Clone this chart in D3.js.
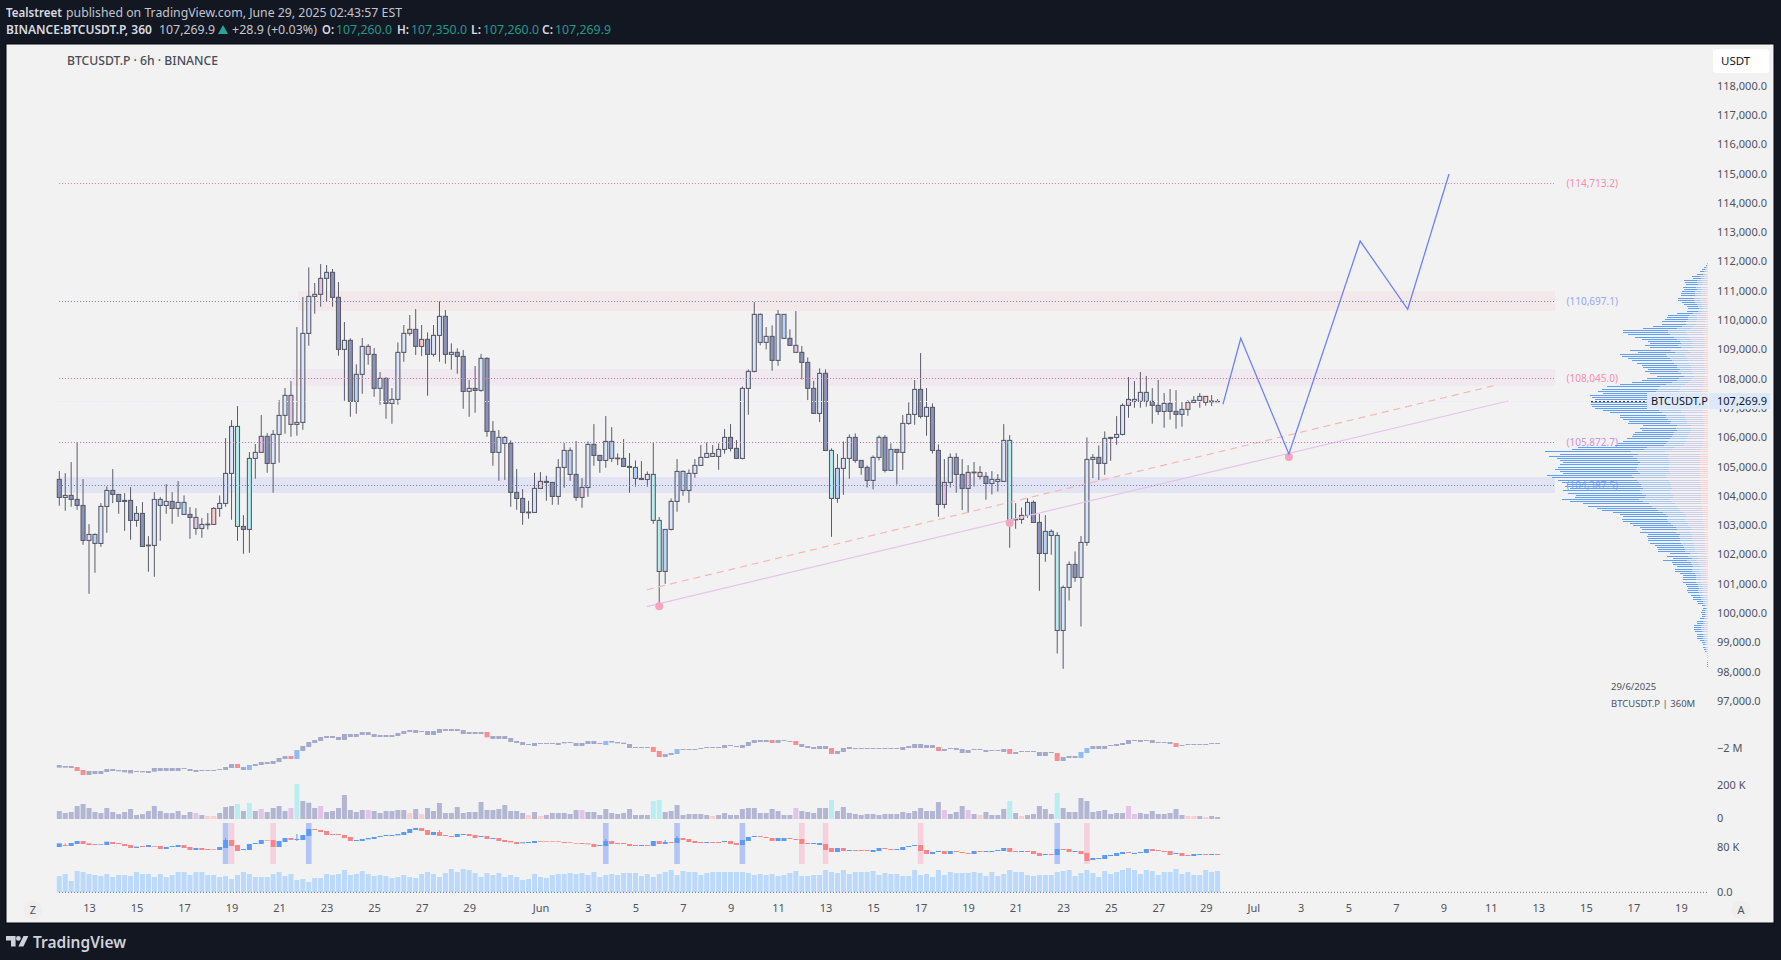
<!DOCTYPE html>
<html>
<head>
<meta charset="utf-8">
<script src="https://cdn.jsdelivr.net/npm/d3@7"></script>
<style>
  body { margin: 0; background: #131722; overflow: hidden; }
  text { font-family: "Noto Sans", sans-serif; }
  .tick line, .domain { display: none; }
</style>
</head>
<body>
<svg id="chart" width="1781" height="960"></svg>
<script>
// price candles, 6h
const opens = [104545,103930,103999,103862,103657,102462,102360,102360,103623,104169,
104033,103828,103828,103145,103384,102280,102292,103657,103657,103794,
103555,103350,103350,103247,102872,102997,103008,103555,103725,104750,
106354,102940,102838,105262,105467,106013,105091,106081,106730,107413,
106423,106491,109529,110792,110861,111407,111612,110758,108983,109290,
107208,108130,109085,108812,107652,107993,107139,107276,108881,109529,
109666,109085,109324,108812,109461,110110,108812,108881,108744,107549,
107652,107583,108676,106184,105467,105774,105774,104101,103896,103407,
103418,104238,104477,104442,103964,104954,104715,104715,103930,104272,
105740,105364,105193,105262,105250,105262,104989,104579,104579,104545,
104715,103145,101404,102838,103794,104169,104169,104750,105023,105296,
105432,105330,105569,105979,105603,105262,107652,108232,109222,109222,
109427,108607,109359,109359,109120,108881,108539,107652,106798,108164,
105535,103896,104920,105262,105979,105193,104954,104511,105296,105979,
104852,105569,105467,106457,106764,107617,106696,107003,105535,103691,
104442,105296,104715,104238,104772,104784,104647,104408,104477,104477,
105876,103168,103179,103316,103760,103077,102018,102633,102633,99390,
100858,101643,101199,102394,105228,105296,105091,105979,105979,106081,
107071,107208,107208,107208,107208,107071,106866,107139,106866,106764,
106935,107174,107242,107378,107196,107197];
const highs = [104830,104761,105137,105819,104556,103020,102701,103737,104306,104898,
104033,104078,104283,103634,103771,102610,104112,103942,104385,104112,
104488,103999,103600,103566,103225,103395,103600,103999,105956,106570,
107048,103327,105478,105751,106741,106127,106229,107253,107663,107902,
109745,110770,111782,111248,111896,111862,111726,111282,109916,109359,
108471,109370,109165,109029,108209,108027,107663,109222,109814,110155,
110360,109814,109563,109814,110622,110326,109188,109017,108960,107936,
108414,108824,108710,106536,106229,106024,105876,104898,104215,103816,
104772,104795,104670,104442,105239,105785,105637,105854,104590,105842,
106434,105364,106707,106331,105432,105922,105444,105193,105171,104818,
105819,103259,102838,103896,105239,104852,104886,105239,105717,105808,
105717,105774,106263,106434,105888,107720,108300,110599,110212,109745,
109802,110326,110178,109666,110292,109097,108710,107913,108334,108300,
105603,105410,105842,106081,106115,105193,105023,105364,106047,106058,
105774,105569,106741,107174,107936,108858,107663,107139,105740,105239,
105432,105444,105239,105034,105137,105000,104795,104829,104727,106434,
106058,103737,103589,103896,103828,103361,103327,102838,102747,100926,
101745,102087,102610,105979,105410,105706,106184,105979,106707,107139,
108038,107902,108209,108073,107663,107936,107492,107629,107595,107185,
107253,107390,107492,107378,107424,107287];
const lows = [103646,103475,103612,103509,102314,100641,101358,102246,102724,103737,
103373,102792,102485,102929,102257,101393,101222,102451,103373,103031,
103270,103350,102519,102656,102553,102838,103008,103270,103612,103168,
102451,102007,102041,104568,105467,104772,104090,105114,106104,106001,
106036,106240,109108,110201,110440,110633,110440,108767,107230,106684,
106787,107469,108460,107367,107094,106616,106445,107094,108562,109450,
108790,108755,107401,108733,108562,108494,108289,108152,106957,106684,
106821,107538,106001,105011,104499,104522,103612,103509,102997,103202,
103418,104238,103816,103680,103680,104260,104499,103816,103577,103953,
105011,104772,104943,105137,105034,104989,104090,104294,104522,104294,
103031,100209,100983,102804,103441,103987,103748,104602,105023,105296,
105330,104875,105421,105501,105239,105228,106753,108198,109120,108983,
108255,108425,109359,109120,108881,107959,107253,106798,106502,105512,
102587,103748,104021,104568,105114,104704,104272,104203,105193,104784,
104841,104374,104875,106411,106411,106627,106036,105432,103270,103555,
104272,104090,103498,103407,104306,104545,103851,104033,104135,104477,
102212,102861,103031,103236,103077,100744,101734,101973,98604,98081,
100414,101051,99526,102280,104590,104522,104704,105182,105728,106047,
106650,106992,106992,107026,106445,106753,106309,106582,106275,106343,
106718,107174,106992,107060,107048,107185];
const closes = [103930,103999,103862,103657,102462,102667,102667,103623,104169,104033,
103794,103794,103145,103384,102257,102303,103862,103862,103794,103555,
103760,103760,103247,102872,103008,103020,103555,103725,104750,106354,
102940,102838,105262,105467,106013,105091,106081,106730,107413,106423,
106491,109529,110792,110861,111407,111612,110758,108983,109290,107208,
108130,109085,108812,107652,107993,107139,107276,108881,109529,109666,
109085,109324,108812,109461,110110,108812,108881,108744,107549,107652,
107583,108676,106184,105467,105979,105979,104101,103896,103418,103429,
104238,104477,104442,103964,104954,105535,105535,103930,104272,105740,
105364,105193,105842,105842,105273,104989,104954,104954,104545,104715,
103145,101404,102838,103794,104818,104818,104750,105023,105296,105432,
105330,105569,105979,105603,105262,107652,108232,110178,110178,109427,
108607,110178,110178,109120,108881,108539,107652,106798,108164,105535,
103896,104920,105262,105979,105193,104954,104511,105296,105979,104852,
105569,105467,106457,106764,107617,106696,107003,105535,103691,104442,
105296,104715,104238,104784,104795,104647,104408,104545,104545,105876,
103145,103191,103316,103760,103077,102018,102770,102770,99390,100858,
101643,101199,102394,105228,105296,105091,105945,105945,106081,107071,
107276,107276,107515,107515,107071,106866,107139,106866,106764,106935,
107174,107242,107378,107174,107220,107205];
// D dark, L light, B blue, C cyan, P pink, M mauve
const candleKinds = ('D L D D D L B L L D D D D B D L L B L D L B D M L L P L L L ' +
  'C D C L M D L L L M L L L L M B D D L D B L M D L D L L L P D P D L L D L D D L ' +
  'D L D D L B D D D L L P D D L L B D M L D D L B L D D B D L C C B L L B L L L L ' +
  'P L L D D L L L B L D L B D M D D D L D C B L L D D D L L D B D L L L D L D D M ' +
  'L D D M L P D L L L C L P L D D B B C L L D L L L D L D L L M L L B D D L D D B ' +
  'P L L P L L').split(' ');
// candle rows were read against the axis label centres, which sit slightly high
const priceReadOffset = 65;

const priceTicks = d3.range(97000, 118001, 1000);
const dateTickIndex = d3.range(5, 70, 8).concat(d3.range(81, 274, 8));
const dateTickLabels = ['13','15','17','19','21','23','25','27','29','Jun','3','5','7','9','11','13','15','17','19','21','23','25','27','29','Jul','3','5','7','9','11','13','15','17','19'];

const levelPrices = [114713.2, 110697.1, 108045.0, 105872.7, 104387.5];
const levelLabels = ['(114,713.2)', '(110,697.1)', '(108,045.0)', '(105,872.7)', '(104,387.5)'];
const levelColors = ['#f47fa4', '#7a80ee', '#f5709c', '#c872de', '#6a80f8'];
const levelLabelColors = ['#f48fb1', '#9aa6f6', '#f48fb1', '#ce93d8', '#90a4f0'];

const zoneStart = [40.2, 39.2, 0];
const zoneTop = [111041, 108379, 104693];
const zoneBottom = [110358, 107809, 104147];
const zoneColors = ['#f3e9eb', '#f0e9f0', '#e2e4f3'];

const projectionIndex = [195.9, 198.9, 207, 219, 227, 233.96];
const projectionPrice = [107174, 109427, 105478, 112747, 110416, 115034];
const pivotIndex = [101, 160, 207];
const pivotPrice = [100280, 103123, 105375];
const dashedTrendIndex = [98.9, 242];
const dashedTrendPrice = [100846, 107833];
const solidTrendIndex = [98.9, 243.9];
const solidTrendPrice = [100266, 107287];

// visible range volume, top row first
const profileTopPrice = 111986;
const profileRowStep = 74;
const profileVolumes = [2,5,11,16,23,33,47,43,71,68,
65,75,71,78,80,80,88,90,78,71,
61,58,63,93,118,123,128,138,136,165,
193,253,255,238,218,198,178,173,188,173,
233,208,263,258,238,228,213,198,193,178,
188,173,153,183,198,228,263,303,318,328,
313,353,348,338,351,351,348,338,313,293,
263,263,255,235,238,193,203,198,218,223,
228,243,253,268,278,388,408,488,443,475,
453,443,433,443,448,458,443,433,483,468,
448,438,423,428,413,433,418,395,398,438,
413,373,358,333,318,283,263,255,258,255,
233,223,203,198,203,178,183,178,178,173,
158,153,148,148,113,123,103,133,108,103,
93,98,98,83,73,73,75,73,65,63,
58,63,58,51,45,43,33,28,18,13,
18,20,18,18,23,31,33,41,41,41,
38,33,33,33,23,18,15,15,11,8,
3,3,3,3,1,1,1];
const profileShares = [1, 0.47, 0.26, 0.05];
const profileColors = ['#5e9ff4', '#a6c8f3', '#cdd0e6', '#fcd0d0'];

// cumulative delta pane, thousands
const cvdHigh = [-3020,-3080,-3080,-3140,-3320,-3380,-3380,-3380,-3260,-3260,
-3320,-3320,-3320,-3380,-3380,-3380,-3200,-3200,-3200,-3200,
-3200,-3200,-3260,-3320,-3320,-3320,-3320,-3260,-3140,-2960,
-2960,-3140,-3020,-2960,-2840,-2840,-2780,-2600,-2480,-2480,
-2120,-1880,-1640,-1520,-1340,-1280,-1280,-1340,-1160,-1160,
-1160,-1040,-1040,-1160,-1220,-1220,-1220,-1100,-980,-920,
-920,-980,-980,-980,-860,-860,-860,-860,-920,-1040,
-1040,-1040,-1040,-1280,-1280,-1280,-1400,-1580,-1640,-1760,
-1700,-1700,-1700,-1700,-1700,-1640,-1640,-1700,-1700,-1580,
-1580,-1700,-1580,-1580,-1640,-1680,-1760,-1940,-1940,-1940,
-1940,-2180,-2360,-2300,-2060,-2060,-2060,-2060,-2000,-1940,
-1940,-1940,-1820,-1820,-1880,-1820,-1640,-1520,-1520,-1520,
-1520,-1520,-1520,-1580,-1580,-1760,-1880,-1940,-1880,-1880,
-2000,-2180,-2000,-1940,-2000,-2000,-2000,-2000,-2000,-2000,
-2000,-2000,-1940,-1880,-1760,-1760,-1820,-1820,-1940,-2060,
-2000,-2000,-2060,-2120,-2060,-2060,-2120,-2120,-2120,-2060,
-2060,-2240,-2180,-2180,-2180,-2240,-2240,-2240,-2300,-2540,
-2480,-2480,-2240,-2000,-1880,-1880,-1880,-1820,-1760,-1700,
-1520,-1520,-1520,-1520,-1520,-1640,-1640,-1640,-1700,-1820,
-1760,-1760,-1760,-1760,-1700,-1700];
const cvdLow = [-3180,-3180,-3200,-3380,-3620,-3620,-3560,-3560,-3440,-3380,
-3400,-3460,-3520,-3440,-3460,-3500,-3420,-3380,-3380,-3380,
-3380,-3260,-3380,-3440,-3380,-3380,-3380,-3320,-3320,-3200,
-3200,-3320,-3320,-3080,-3020,-2960,-2960,-2840,-2660,-2660,
-2660,-2180,-1940,-1700,-1580,-1400,-1400,-1520,-1520,-1340,
-1340,-1220,-1220,-1340,-1340,-1340,-1340,-1280,-1160,-1040,
-1100,-1040,-1220,-1220,-1100,-980,-980,-980,-1160,-1160,
-1160,-1160,-1360,-1460,-1460,-1460,-1640,-1700,-1820,-1820,
-1880,-1760,-1760,-1760,-1820,-1720,-1700,-1880,-1880,-1760,
-1760,-1760,-1820,-1680,-1720,-1760,-2000,-2000,-2000,-2000,
-2240,-2540,-2540,-2420,-2360,-2120,-2120,-2120,-2060,-2000,
-2000,-2000,-2000,-1880,-1940,-2000,-1880,-1700,-1640,-1640,
-1700,-1700,-1580,-1640,-1820,-1940,-2000,-2060,-2060,-2060,
-2360,-2360,-2240,-2060,-2060,-2060,-2060,-2060,-2060,-2060,
-2060,-2060,-2120,-2000,-2000,-2000,-2000,-2000,-2180,-2180,
-2060,-2120,-2300,-2300,-2120,-2120,-2240,-2180,-2180,-2240,
-2360,-2360,-2240,-2240,-2240,-2480,-2480,-2300,-2780,-2780,
-2600,-2600,-2600,-2300,-2060,-2060,-2060,-1880,-1880,-1820,
-1760,-1580,-1640,-1580,-1700,-1700,-1700,-1760,-1940,-1880,
-1820,-1820,-1820,-1820,-1760,-1760];
const cvdSalmon = [3,4,30,39,72,100,101,120,124,130,148,160,168,188];
const cvdBlue = [32,40,92,104,172,173];

// volume pane, thousands
const volumes = [48,36,42,78,90,66,42,36,66,42,
30,42,60,24,30,48,78,48,36,36,
48,24,42,36,24,18,18,36,72,78,
90,48,96,48,60,42,66,78,48,66,
210,108,98,66,78,42,48,66,144,54,
42,54,54,48,36,48,48,54,54,36,
60,30,66,48,96,36,36,72,36,42,
42,102,54,54,60,84,48,48,36,24,
42,18,24,36,36,36,30,54,54,42,
42,24,60,36,30,36,60,24,24,24,
108,114,42,48,84,24,30,30,30,24,
18,24,36,24,24,60,66,66,36,36,
60,48,24,24,66,48,42,36,66,66,
114,48,72,36,30,24,30,30,24,30,
30,30,42,36,48,66,48,48,102,54,
30,42,78,54,30,24,42,24,24,60,
108,36,18,24,30,78,60,30,156,66,
42,42,126,108,42,48,54,30,36,36,
78,30,36,30,48,30,30,36,60,24,
18,18,18,12,18,12];
const volCyan = [30,32,40,100,101,130,160,168];
const volMauve = [23,34,39,44,52,88,124,149,153,180,181];
const volPink = [25,26,59,61,79,81,110,155,162,190,191,193];

// delta pane, thousands
const deltaHigh = [91,86,92,98,98,91,89,89,96,95,
92,89,86,81,83,86,83,83,80,83,
86,86,80,77,77,74,73,80,101,101,
86,74,89,92,101,101,101,98,107,107,
104,116,134,134,131,128,119,119,116,110,
101,104,107,110,113,116,116,119,125,134,
137,137,131,125,125,116,113,119,119,119,
116,113,113,107,107,101,98,95,94,95,
98,97,97,97,97,95,94,92,92,91,
89,86,98,98,92,92,89,86,86,86,
98,98,95,95,107,107,104,98,95,95,
95,95,98,98,92,101,110,113,113,110,
107,107,107,107,104,104,92,92,92,89,
77,77,77,71,71,71,71,71,77,77,
74,74,80,83,86,86,71,65,68,68,
68,68,65,62,68,68,68,68,71,77,
77,68,68,68,68,62,59,59,74,74,
74,68,68,62,47,47,56,56,62,65,
65,62,65,74,74,71,68,68,62,62,
56,59,59,59,59,59];
const deltaLow = [80,83,83,89,89,86,86,87,86,89,
89,83,77,77,80,80,81,74,74,80,
80,77,71,71,71,71,71,71,77,83,
68,71,71,89,89,99,80,80,95,101,
101,101,113,131,125,116,116,116,107,98,
98,98,103,104,110,113,113,115,116,122,
131,128,116,116,113,113,110,110,116,113,
107,110,104,104,98,95,94,89,91,92,
92,95,95,95,95,92,92,90,89,88,
80,83,83,89,89,89,83,83,83,83,
83,89,89,92,92,101,95,92,92,92,
92,92,95,89,86,86,98,110,110,107,
98,98,98,104,101,89,89,89,86,71,
65,65,68,68,68,68,68,65,68,74,
71,71,71,80,83,68,59,59,65,59,
59,65,62,59,59,65,65,65,68,68,
65,65,65,65,59,53,56,56,56,71,
65,65,59,38,41,44,44,53,53,59,
62,59,62,62,68,68,65,56,59,53,
53,53,56,56,56,56];
const deltaSides = ('b r b b r r r b b r r r r b r b r r b b b r r b r r r b b r ' +
  'r b b b b r r b b r b b b r r r r r r r b b b b b b b b b b b r r b r r r b b r ' +
  'r b r b r r r r b b b r r r r r r r r r r b b r r r r r b r b r b r b r r r r b ' +
  'r r b r r b b b r r r b b r r r r b b r r b r b r r r b b r r b b b b r r b b r ' +
  'b r r r b r b b b b r r b r r r b r b r r b r r b b b b b b r b b b r r r r b r ' +
  'r b b r b r').split(' ');
const deltaWickIndex = [1, 28, 40, 64, 92, 102, 104];
const deltaWickHigh = [91, 107, 119, 131, 104, 101, 113];
const deltaWickLow = [83, 77, 98, 113, 83, 89, 92];
const deltaBlueBands = [28, 42, 92, 104, 115, 168];
const deltaPinkBands = [29, 36, 125, 129, 145, 173];

// open interest style pane at the bottom
const lowerBars = [49,55,34,64,61,55,52,49,55,46,
52,52,49,61,55,55,46,55,46,52,
61,61,52,61,61,52,52,46,49,40,
52,61,55,46,46,46,55,61,49,55,
37,40,31,43,43,55,52,55,67,52,
55,64,55,49,52,49,43,46,52,46,
43,55,61,55,46,58,70,61,70,67,
58,46,58,52,58,46,52,46,37,40,
55,46,43,52,55,55,58,55,58,52,
61,46,52,55,52,58,58,58,49,55,
46,55,61,67,52,64,61,61,52,58,
61,61,61,61,61,61,58,52,55,52,
55,49,52,58,64,49,49,52,52,67,
61,58,67,55,61,61,61,64,52,58,
55,55,49,49,67,52,55,46,67,52,
61,58,58,58,61,58,49,61,49,55,
67,61,61,52,49,52,52,52,61,64,
67,49,58,67,58,46,64,55,61,67,
73,67,55,67,64,52,61,61,70,55,
61,52,52,67,61,64];

const kindFill = { D: '#8a92ba', L: '#dce6fb', B: '#b5d4f7', C: '#b8eef0', P: '#ffcccc', M: '#e3c4e6' };
const wickColor = '#5a5c69';
const labelColor = '#50535e';

const svg = d3.select('#chart');
const fmtPrice = d3.format(',.1f');

const x = d3.scaleLinear().domain([0, 1]).range([59.3, 65.24]);
const y = d3.scaleLinear().domain([97000, 118000]).range([702.4, 87.1]);
const yCvd = d3.scaleLinear().domain([-3000, -1000]).range([764.67, 731.33]);
const yVol = d3.scaleLinear().domain([0, 200]).range([819, 785.7]);
const yDelta = d3.scaleLinear().domain([0, 120]).range([873.67, 833.67]);
const yLower = d3.scaleLinear().domain([0, 70]).range([892.3, 869]);
const profileLen = d3.scaleLinear().domain([0, 500]).range([0, 166.7]);

const candles = opens.map((o, i) => ({
    i,
    o: o + priceReadOffset,
    h: highs[i] + priceReadOffset,
    l: lows[i] + priceReadOffset,
    c: closes[i] + priceReadOffset,
    kind: candleKinds[i]
}));

function drawFrame() {
    svg.append('rect').attr('x', 6).attr('y', 44).attr('width', 1768).attr('height', 879)
        .attr('fill', '#f2f2f2').attr('stroke', '#06080d').attr('stroke-width', 1);

    // text, x, fitted width, colour, weight, baseline
    const header = [
        ['Tealstreet', 6, 56, '#d8dae0', 600, 17],
        ['published on TradingView.com, June 29, 2025 02:43:57 EST', 66, 336, '#c2c5ce', 400, 17],
        ['BINANCE:BTCUSDT.P, 360', 6, 146, '#d8dae0', 600, 34],
        ['107,269.9', 159, 56, '#c2c5ce', 400, 34],
        ['+28.9 (+0.03%)', 232, 85, '#c2c5ce', 400, 34],
        ['O:', 322, 12, '#d8dae0', 600, 34], ['107,260.0', 336, 56, '#1f9a8c', 400, 34],
        ['H:', 397, 12, '#d8dae0', 600, 34], ['107,350.0', 411, 56, '#1f9a8c', 400, 34],
        ['L:', 471, 10, '#d8dae0', 600, 34], ['107,260.0', 483, 56, '#1f9a8c', 400, 34],
        ['C:', 542, 11, '#d8dae0', 600, 34], ['107,269.9', 555, 56, '#1f9a8c', 400, 34]
    ];
    svg.selectAll('.header').data(header).join('text').attr('class', 'header')
        .attr('x', d => d[1]).attr('y', d => d[5])
        .attr('textLength', d => d[2]).attr('lengthAdjust', 'spacingAndGlyphs')
        .attr('fill', d => d[3]).attr('font-size', 12.5).attr('font-weight', d => d[4])
        .text(d => d[0]);
    svg.append('path').attr('d', 'M218,34 L223,25 L228,34 Z').attr('fill', '#26a69a');

    svg.append('text').attr('x', 67).attr('y', 65).attr('fill', '#4a4d57').attr('font-size', 12.2)
        .attr('font-weight', 500).text('BTCUSDT.P · 6h · BINANCE');

    svg.append('rect').attr('x', 1713).attr('y', 49).attr('width', 56).attr('height', 24).attr('rx', 3).attr('fill', '#fff');
    svg.append('text').attr('x', 1721).attr('y', 65).attr('fill', '#131722').attr('font-size', 11.5)
        .attr('font-family', 'Roboto, sans-serif').text('USDT');

    svg.append('text').attr('x', 1611).attr('y', 690).attr('fill', labelColor).attr('font-size', 9.5).text('29/6/2025');
    svg.append('text').attr('x', 1611).attr('y', 707).attr('fill', labelColor).attr('font-size', 9.5).text('BTCUSDT.P | 360M');

    // round corner buttons
    [[33, 'Z'], [1741, 'A']].forEach(b => {
        svg.append('circle').attr('cx', b[0]).attr('cy', 910).attr('r', 9.5).attr('fill', '#eeeeee');
        svg.append('text').attr('x', b[0]).attr('y', 914).attr('text-anchor', 'middle')
            .attr('fill', labelColor).attr('font-size', 11).text(b[1]);
    });

    // TradingView mark
    const logo = svg.append('g').attr('fill', '#cfd2d9');
    logo.append('path').attr('d', 'M6,936 H15.6 V946.6 H11 V940.6 H6 Z');
    logo.append('circle').attr('cx', 18.4).attr('cy', 938.4).attr('r', 2.4);
    logo.append('path').attr('d', 'M23.5,936 H28.4 L23.4,946.6 H18.4 Z');
    svg.append('text').attr('x', 33).attr('y', 947.5).attr('fill', '#cfd2d9').attr('font-size', 15.5)
        .attr('font-weight', 600).attr('font-family', 'Inter, sans-serif').text('TradingView');
}

function drawAxes() {
    const priceAxis = d3.axisRight(y).tickValues(priceTicks).tickSize(0).tickPadding(0).tickFormat(fmtPrice);
    svg.append('g').attr('transform', 'translate(1717,-1.5)').call(priceAxis)
        .call(g => g.selectAll('text').attr('fill', labelColor).attr('font-size', 11).attr('font-family', 'Roboto, sans-serif'));

    const dateAxis = d3.axisBottom(x).tickValues(dateTickIndex).tickSize(0).tickPadding(0)
        .tickFormat((d, i) => dateTickLabels[i]);
    svg.append('g').attr('transform', 'translate(0,904)').call(dateAxis)
        .call(g => g.selectAll('text').attr('fill', labelColor).attr('font-size', 11).attr('font-family', 'Roboto, sans-serif'));

    const paneLabels = [['−2 M', 752], ['200 K', 789], ['0', 822], ['80 K', 851], ['0.0', 896]];
    svg.selectAll('.pane-label').data(paneLabels).join('text').attr('class', 'pane-label')
        .attr('x', 1717).attr('y', d => d[1]).attr('fill', labelColor).attr('font-size', 11)
        .attr('font-family', 'Roboto, sans-serif').text(d => d[0]);
}

function drawZones() {
    svg.selectAll('.zone').data(zoneTop).join('rect').attr('class', 'zone')
        .attr('x', (d, i) => x(zoneStart[i])).attr('y', d => y(d))
        .attr('width', (d, i) => 1555 - x(zoneStart[i]))
        .attr('height', (d, i) => y(zoneBottom[i]) - y(d))
        .attr('fill', (d, i) => zoneColors[i]);
}

function drawCandles() {
    const g = svg.append('g');
    g.selectAll('.wick').data(candles).join('line').attr('class', 'wick')
        .attr('x1', d => x(d.i)).attr('x2', d => x(d.i))
        .attr('y1', d => y(d.h)).attr('y2', d => y(d.l))
        .attr('stroke', wickColor).attr('stroke-width', 1);
    g.selectAll('.body').data(candles).join('rect').attr('class', 'body')
        .attr('x', d => x(d.i) - 2)
        .attr('y', d => y(Math.max(d.o, d.c)))
        .attr('width', 4)
        .attr('height', d => Math.abs(y(d.o) - y(d.c)))
        .attr('fill', d => kindFill[d.kind])
        .attr('stroke', wickColor).attr('stroke-width', 1.1);
}

function drawDrawings() {
    const line = d3.line().x(d => x(d[0])).y(d => y(d[1]));

    svg.append('path').attr('d', line(dashedTrendIndex.map((d, i) => [d, dashedTrendPrice[i]])))
        .attr('fill', 'none').attr('stroke', '#f8b6b6').attr('stroke-width', 1.2).attr('stroke-dasharray', '7 5');
    svg.append('path').attr('d', line(solidTrendIndex.map((d, i) => [d, solidTrendPrice[i]])))
        .attr('fill', 'none').attr('stroke', '#e6c4ea').attr('stroke-width', 1.2);

    svg.selectAll('.pivot').data(pivotIndex).join('circle').attr('class', 'pivot')
        .attr('cx', d => x(d)).attr('cy', (d, i) => y(pivotPrice[i])).attr('r', 4)
        .attr('fill', '#f6a5bf');

    // faint last price line
    svg.append('line').attr('x1', 59).attr('x2', 1591).attr('y1', y(107269.9)).attr('y2', y(107269.9))
        .attr('stroke', '#e6e6f6').attr('stroke-width', 1).attr('stroke-dasharray', '1 2')
        .attr('shape-rendering', 'crispEdges');

    svg.selectAll('.level').data(levelPrices).join('line').attr('class', 'level')
        .attr('x1', 59).attr('x2', 1555).attr('y1', d => y(d)).attr('y2', d => y(d))
        .attr('stroke', (d, i) => levelColors[i]).attr('stroke-width', 1).attr('stroke-dasharray', '1 2')
        .attr('shape-rendering', 'crispEdges');
    svg.selectAll('.level-label').data(levelPrices).join('text').attr('class', 'level-label')
        .attr('x', 1566.5).attr('y', d => y(d) + 3.5).attr('fill', (d, i) => levelLabelColors[i])
        .attr('font-size', 10).attr('font-family', 'Roboto, sans-serif').text((d, i) => levelLabels[i]);

    svg.append('path').attr('d', line(projectionIndex.map((d, i) => [d, projectionPrice[i]])))
        .attr('fill', 'none').attr('stroke', '#6e82f5').attr('stroke-width', 1.3);
}

function drawProfile() {
    const right = 1707.7;
    const rows = profileVolumes.map((v, i) => ({ v, p: profileTopPrice - i * profileRowStep }));
    profileShares.forEach((share, s) => {
        svg.selectAll('.profile-' + s).data(rows).join('line').attr('class', 'profile-' + s)
            .attr('x1', d => right - profileLen(d.v) * share).attr('x2', right)
            .attr('y1', d => y(d.p)).attr('y2', d => y(d.p))
            .attr('stroke', profileColors[s]).attr('stroke-width', 1)
            .attr('shape-rendering', 'crispEdges');
    });

    svg.append('line').attr('x1', 1591).attr('x2', 1647).attr('y1', y(107269.9)).attr('y2', y(107269.9))
        .attr('stroke', '#3a3e49').attr('stroke-width', 1).attr('stroke-dasharray', '2 2')
        .attr('shape-rendering', 'crispEdges');
    svg.append('rect').attr('x', 1647).attr('y', 393).attr('width', 61).attr('height', 16).attr('fill', '#dbe8fd');
    svg.append('rect').attr('x', 1709).attr('y', 393).attr('width', 61).attr('height', 16).attr('fill', '#dbe8fd');
    svg.append('text').attr('x', 1651).attr('y', 405).attr('fill', '#131722').attr('font-size', 11)
        .attr('font-family', 'Roboto, sans-serif').text('BTCUSDT.P');
    svg.append('text').attr('x', 1717).attr('y', 405).attr('fill', '#131722').attr('font-size', 11)
        .attr('font-family', 'Roboto, sans-serif').text('107,269.9');
}

function drawPanes() {
    const idx = d3.range(opens.length);
    const barW = 5;

    // cumulative delta
    svg.selectAll('.cvd').data(idx).join('rect').attr('class', 'cvd')
        .attr('x', d => x(d) - barW / 2).attr('width', barW)
        .attr('y', d => yCvd(cvdHigh[d]))
        .attr('height', d => yCvd(cvdLow[d]) - yCvd(cvdHigh[d]))
        .attr('fill', d => cvdSalmon.includes(d) ? '#f98e92' : cvdBlue.includes(d) ? '#8ebcf9' : '#a5a9c9');

    // volume
    svg.selectAll('.vol').data(idx).join('rect').attr('class', 'vol')
        .attr('x', d => x(d) - barW / 2).attr('width', barW)
        .attr('y', d => yVol(volumes[d]))
        .attr('height', d => yVol(0) - yVol(volumes[d]))
        .attr('fill', d => volCyan.includes(d) ? '#b9eef0'
            : volMauve.includes(d) ? '#e3c4e8'
            : volPink.includes(d) ? '#ffcdcd' : '#b3b6d2');

    // delta with its highlight bands behind
    svg.selectAll('.band-blue').data(deltaBlueBands).join('rect').attr('class', 'band-blue')
        .attr('x', d => x(d) - 2.8).attr('width', 5.6)
        .attr('y', yDelta(152)).attr('height', yDelta(29) - yDelta(152)).attr('fill', '#b4c5f5');
    svg.selectAll('.band-pink').data(deltaPinkBands).join('rect').attr('class', 'band-pink')
        .attr('x', d => x(d) - 2.8).attr('width', 5.6)
        .attr('y', yDelta(152)).attr('height', yDelta(29) - yDelta(152)).attr('fill', '#f6d0dc');
    svg.selectAll('.delta-wick').data(deltaWickIndex).join('line').attr('class', 'delta-wick')
        .attr('x1', d => x(d)).attr('x2', d => x(d))
        .attr('y1', (d, i) => yDelta(deltaWickHigh[i])).attr('y2', (d, i) => yDelta(deltaWickLow[i]))
        .attr('stroke', d => deltaSides[d] === 'b' ? '#5b9bf5' : '#f88488').attr('stroke-width', 1);
    svg.selectAll('.delta').data(idx).join('rect').attr('class', 'delta')
        .attr('x', d => x(d) - barW / 2).attr('width', barW)
        .attr('y', d => yDelta(deltaHigh[d]))
        .attr('height', d => yDelta(deltaLow[d]) - yDelta(deltaHigh[d]))
        .attr('fill', d => deltaSides[d] === 'b' ? '#5b9bf5' : '#f88488');

    // lower bars and their zero line
    svg.selectAll('.lower').data(idx).join('rect').attr('class', 'lower')
        .attr('x', d => x(d) - barW / 2).attr('width', barW)
        .attr('y', d => yLower(lowerBars[d]))
        .attr('height', d => yLower(0) - yLower(lowerBars[d]))
        .attr('fill', '#bbd9fb');
    svg.append('line').attr('x1', 59).attr('x2', 1707).attr('y1', yLower(0)).attr('y2', yLower(0))
        .attr('stroke', '#6b6e78').attr('stroke-width', 1).attr('stroke-dasharray', '1 2');
}

drawFrame();
drawZones();
drawCandles();
drawDrawings();
drawAxes();
drawProfile();
drawPanes();
</script>
</body>
</html>
